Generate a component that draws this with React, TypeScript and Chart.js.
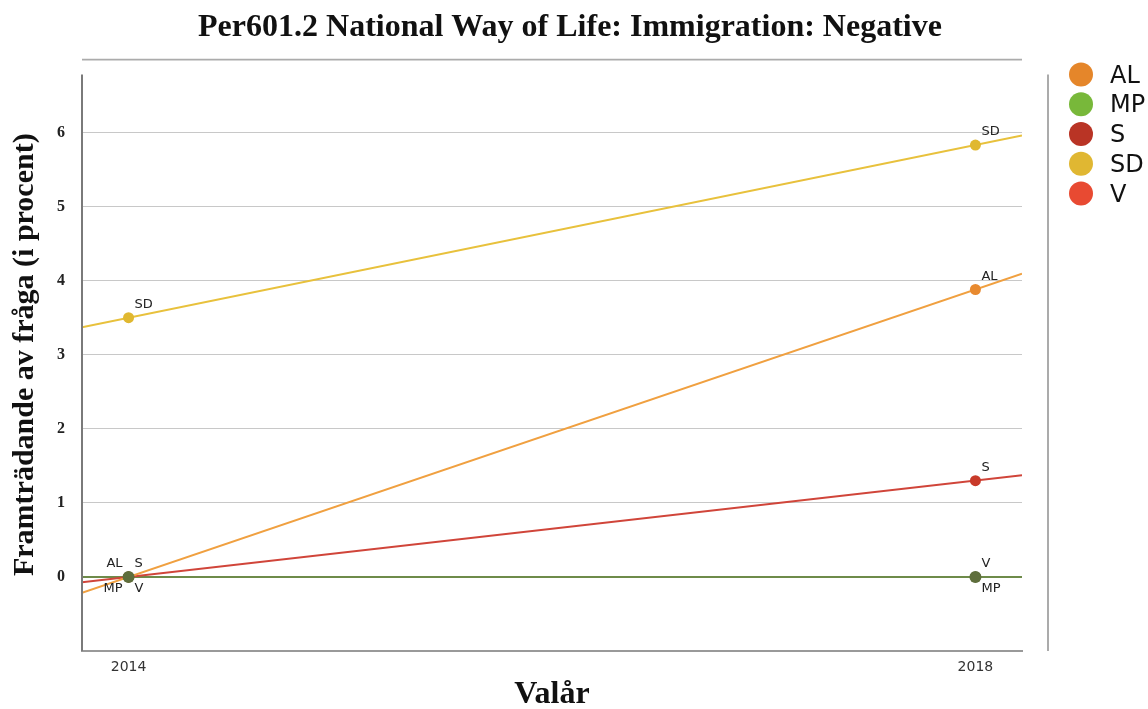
import { useEffect, useRef } from "react";
import { Chart, registerables } from "chart.js";

Chart.register(...registerables);

const chartTitle = "Per601.2 National Way of Life: Immigration: Negative";
const xAxisTitle = "Valår";
const yAxisTitle = "Framträdande av fråga (i procent)";

const years = [2014, 2018];
const parties = ["AL", "MP", "S", "SD", "V"];
const alValues = [0, 3.88];
const mpValues = [0, 0];
const sValues = [0, 1.3];
const sdValues = [3.5, 5.83];
const vValues = [0, 0];
const yTickValues = [0, 1, 2, 3, 4, 5, 6];

const xMin = 2013.78;
const xMax = 2018.22;
const yMin = -1;
const yMax = 7;

// styles
const legendColors = ["#E5862A", "#78B83A", "#B93425", "#E0B732", "#E84A32"];
const lineColors = ["#F0A040", "#6E8B4A", "#D0453A", "#E8C13C", "#6E8B4A"];
const pointColors = ["#E88A30", "#5E6E3C", "#C83A2A", "#E0B830", "#5E6E3C"];
const labelPlacement: string[][] = [
  ["nw", "ne"],
  ["sw", "se"],
  ["ne", "ne"],
  ["ne", "ne"],
  ["se", "ne"],
];
const lineDrawOrder = [4, 1, 2, 0, 3];

const seriesValues = [alValues, mpValues, sValues, sdValues, vValues];

const decorPlugin = {
  id: "decor",
  beforeDatasetsDraw(chart: any) {
    const { ctx, chartArea } = chart;
    const xs = chart.scales.x;
    const ys = chart.scales.y;
    ctx.save();
    ctx.beginPath();
    ctx.rect(chartArea.left, chartArea.top, chartArea.right - chartArea.left, chartArea.bottom - chartArea.top);
    ctx.clip();
    // top border line
    ctx.strokeStyle = "#ababab";
    ctx.lineWidth = 2;
    ctx.beginPath();
    const ty = ys.getPixelForValue(yMax) + 1;
    ctx.moveTo(chartArea.left, ty);
    ctx.lineTo(chartArea.right, ty);
    ctx.stroke();
    // extended trend lines
    lineDrawOrder.forEach((i) => {
      const v = seriesValues[i];
      const slope = (v[1] - v[0]) / (years[1] - years[0]);
      const yAt = (x: number) => v[0] + slope * (x - years[0]);
      ctx.strokeStyle = lineColors[i];
      ctx.lineWidth = 2;
      ctx.beginPath();
      ctx.moveTo(xs.getPixelForValue(xMin), ys.getPixelForValue(yAt(xMin)));
      ctx.lineTo(xs.getPixelForValue(xMax), ys.getPixelForValue(yAt(xMax)));
      ctx.stroke();
    });
    ctx.restore();
  },
  afterDatasetsDraw(chart: any) {
    const { ctx } = chart;
    ctx.save();
    ctx.font = "13px 'DejaVu Sans'";
    ctx.fillStyle = "#222";
    ctx.textBaseline = "middle";
    parties.forEach((p, i) => {
      const meta = chart.getDatasetMeta(i);
      meta.data.forEach((pt: any, j: number) => {
        const pl = labelPlacement[i][j];
        const dx = 6;
        const dy = pl[0] === "n" ? -13 : 12;
        if (pl[1] === "e") {
          ctx.textAlign = "left";
          ctx.fillText(p, pt.x + dx, pt.y + dy);
        } else {
          ctx.textAlign = "right";
          ctx.fillText(p, pt.x - dx, pt.y + dy);
        }
      });
    });
    ctx.restore();
  },
  afterDraw(chart: any) {
    const { ctx, chartArea } = chart;
    const ys = chart.scales.y;
    ctx.save();
    const axisTop = ys.getPixelForValue(yMax) + 16;
    // left axis line
    ctx.strokeStyle = "#7a7a7a";
    ctx.lineWidth = 2;
    ctx.beginPath();
    ctx.moveTo(chartArea.left, axisTop);
    ctx.lineTo(chartArea.left, chartArea.bottom);
    ctx.stroke();
    // separator
    ctx.strokeStyle = "#ababab";
    ctx.beginPath();
    ctx.moveTo(chartArea.right + 26, axisTop);
    ctx.lineTo(chartArea.right + 26, chartArea.bottom);
    ctx.stroke();
    // legend
    ctx.font = "24px 'DejaVu Sans'";
    ctx.textBaseline = "middle";
    ctx.textAlign = "left";
    parties.forEach((p, i) => {
      const cy = axisTop + i * 29.8;
      const cx = chartArea.right + 59;
      ctx.fillStyle = legendColors[i];
      ctx.beginPath();
      ctx.arc(cx, cy, 12, 0, Math.PI * 2);
      ctx.fill();
      ctx.fillStyle = "#111";
      ctx.fillText(p, cx + 29, cy + 2);
    });
    ctx.restore();
  },
};

export default function App() {
  const canvasRef = useRef<HTMLCanvasElement | null>(null);

  useEffect(() => {
    document.body.style.margin = "0";
    const canvas = canvasRef.current;
    if (!canvas) return;
    const datasets = parties.map((p, i) => ({
      label: p,
      data: years.map((yr, j) => ({ x: yr, y: seriesValues[i][j] })),
      showLine: false,
      pointRadius: i === 1 ? 6 : 5.5,
      pointBackgroundColor: pointColors[i],
      pointBorderColor: pointColors[i],
      pointBorderWidth: 0,
      borderColor: lineColors[i],
      backgroundColor: pointColors[i],
      order: i === 1 ? 0 : 1,
    }));
    const chart = new Chart(canvas, {
      type: "line",
      data: { datasets },
      plugins: [decorPlugin],
      options: {
        animation: false,
        responsive: false,
        events: [],
        layout: { padding: { left: 0, right: 8, top: 0, bottom: 0 } },
        plugins: {
          legend: { display: false },
          tooltip: { enabled: false },
          title: {
            display: true,
            text: chartTitle,
            color: "#111",
            font: { family: "'Liberation Serif', serif", size: 32, weight: "bold", lineHeight: 1.2 },
            padding: { top: 9, bottom: 11 },
          },
        },
        scales: {
          x: {
            type: "linear",
            min: xMin,
            max: xMax,
            afterBuildTicks: (s: any) => {
              s.ticks = years.map((v) => ({ value: v }));
            },
            afterFit: (s: any) => {
              s.height = 58;
            },
            grid: { display: false, drawTicks: false },
            border: { display: true, color: "#999", width: 2 },
            ticks: {
              padding: 8,
              color: "#333",
              font: { family: "'DejaVu Sans'", size: 14 },
              callback: (v: any) => String(v),
            },
            title: {
              display: true,
              text: xAxisTitle,
              color: "#111",
              font: { family: "'Liberation Serif', serif", size: 32, weight: "bold", lineHeight: 0.9 },
              padding: { top: 0, bottom: 0 },
            },
          },
          y: {
            type: "linear",
            min: yMin,
            max: yMax,
            afterBuildTicks: (s: any) => {
              s.ticks = yTickValues.map((v) => ({ value: v }));
            },
            afterFit: (s: any) => {
              s.width = 82;
            },
            grid: { color: "#c8c8c8", lineWidth: 1, drawTicks: false },
            border: { display: false },
            ticks: {
              padding: 17,
              color: "#222",
              font: { family: "'Liberation Serif', serif", size: 16, weight: "bold" },
            },
            title: {
              display: true,
              text: yAxisTitle,
              color: "#111",
              font: { family: "'Liberation Serif', serif", size: 30, weight: "bold", lineHeight: 1 },
              padding: { top: 10, bottom: 0 },
            },
          },
          y2: {
            type: "linear",
            position: "right",
            min: 0,
            max: 1,
            grid: { display: false, drawTicks: false },
            border: { display: false },
            ticks: { display: false },
            afterFit: (s: any) => {
              s.width = 118;
            },
          },
        },
      },
    } as any);
    return () => chart.destroy();
  }, []);

  return (
    <div style={{ width: 1148, height: 709 }}>
      <canvas ref={canvasRef} width={1148} height={709} style={{ display: "block" }} />
    </div>
  );
}
